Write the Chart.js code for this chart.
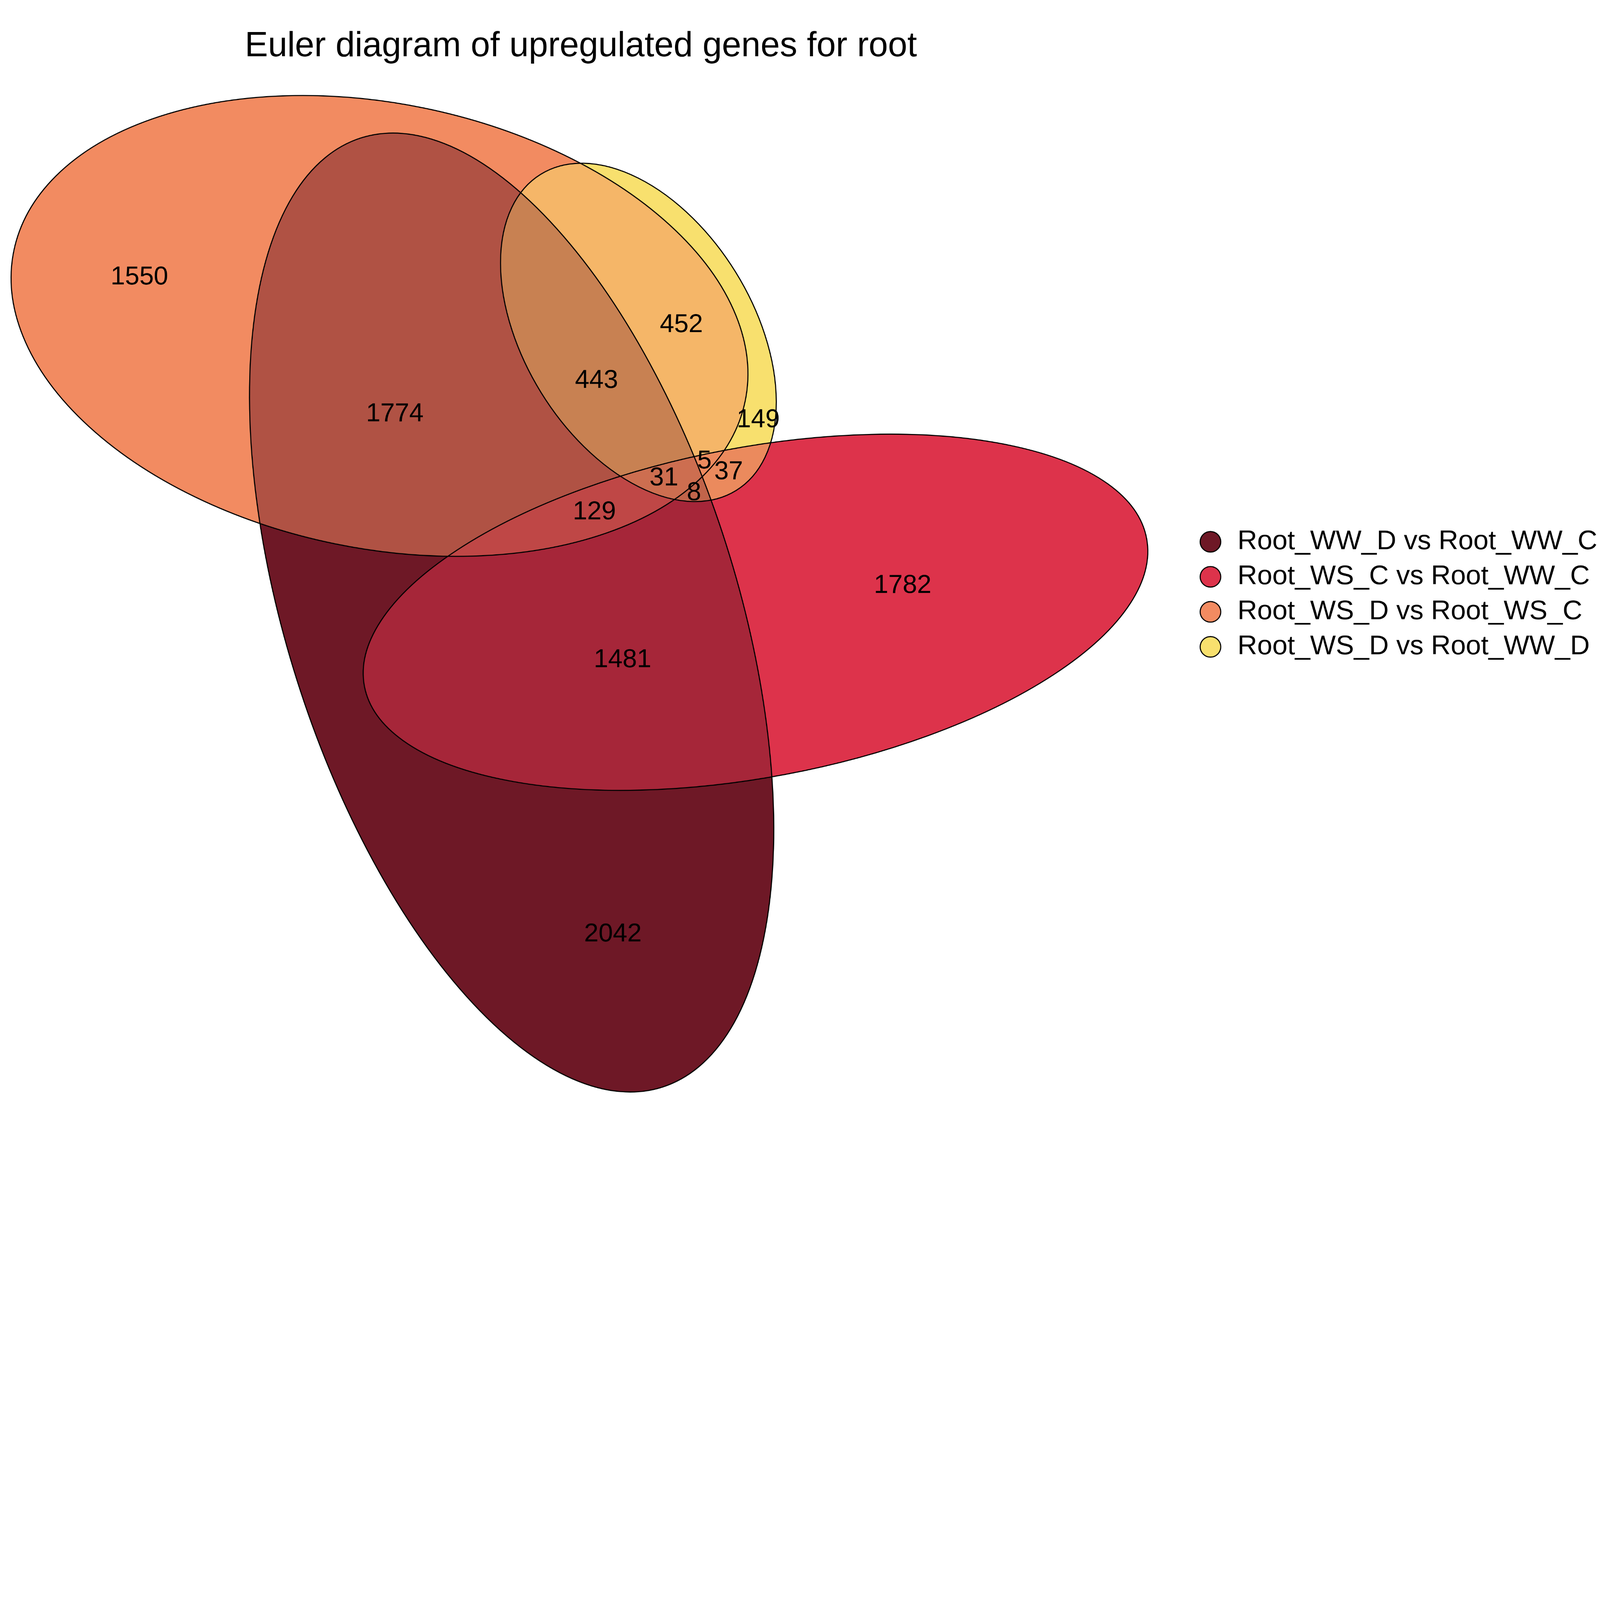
<!DOCTYPE html>
<html>
<head>
<meta charset="utf-8">
<title>Euler diagram of upregulated genes for root</title>
<script src="https://cdn.jsdelivr.net/npm/chart.js@4.4.1/dist/chart.umd.min.js"></script>
<style>
  html, body { margin: 0; padding: 0; background: #ffffff; overflow: hidden; }
  #wrap { width: 5940px; height: 4200px; position: relative; transform-origin: 0 0; }
</style>
</head>
<body>
<div id="wrap"><canvas id="eulerChart"></canvas></div>
<script>
// sets (legend order)
const setNames = [
    'Root_WW_D vs Root_WW_C',
    'Root_WS_C vs Root_WW_C',
    'Root_WS_D vs Root_WS_C',
    'Root_WS_D vs Root_WW_D'
];

// fitted ellipses, one per set (diagram units, y pointing down, angle in degrees)
const ellipseX = [1905, 2813, 1413, 2377];
const ellipseY = [2274, 2273, 1210, 1234];
const ellipseA = [1854, 1482, 1390, 692];
const ellipseB = [838, 614, 828, 426];
const ellipseAngle = [72.4, -10.7, 11.6, 58.3];

// regions: member sets (index into setNames), gene counts, label anchor
const regionMembers = [[0], [1], [2], [3], [0, 1], [0, 2], [1, 3], [2, 3], [0, 1, 2], [0, 1, 3], [0, 2, 3], [1, 2, 3], [0, 1, 2, 3]];
const regionCounts = [2042, 1782, 1550, 149, 1481, 1774, 37, 452, 129, 8, 443, 5, 31];
const labelX = [2282, 3361, 519, 2823, 2318, 1470, 2713, 2537, 2213, 2584, 2221, 2623, 2472];
const labelY = [3469, 2175, 1030, 1560, 2451, 1538, 1753, 1207, 1902, 1831, 1414, 1713, 1776];

const setColors = ['#6E1826', '#DD334B', '#F28B61', '#F8E06E'];
const FONT = '"Liberation Sans", Arial, Helvetica, sans-serif';

// the page is laid out at 5940x4200; shrink it if the window is smaller
function fitPage() {
    const k = Math.min(1, window.innerWidth / 5940, window.innerHeight / 4200);
    document.getElementById('wrap').style.transform = 'scale(' + k + ')';
}
fitPage();
window.addEventListener('resize', fitPage);

// region colour = plain average of the member colours
function mixColors(idx) {
    let r = 0, g = 0, b = 0;
    idx.forEach(function(i) {
        const h = setColors[i];
        r += parseInt(h.substr(1, 2), 16);
        g += parseInt(h.substr(3, 2), 16);
        b += parseInt(h.substr(5, 2), 16);
    });
    const n = idx.length;
    return 'rgb(' + Math.round(r / n) + ',' + Math.round(g / n) + ',' + Math.round(b / n) + ')';
}

const eulerPlugin = {
    id: 'eulerRegions',
    afterDatasetsDraw(chart) {
        const ctx = chart.ctx;
        const xs = chart.scales.x;
        const ys = chart.scales.y;
        const unit = Math.abs(xs.getPixelForValue(1) - xs.getPixelForValue(0));

        const shapes = ellipseX.map(function(cx, i) {
            return {
                x: xs.getPixelForValue(cx),
                y: ys.getPixelForValue(ellipseY[i]),
                a: ellipseA[i] * unit,
                b: ellipseB[i] * unit,
                rot: ellipseAngle[i] * Math.PI / 180
            };
        });
        function path(s) {
            ctx.beginPath();
            ctx.ellipse(s.x, s.y, s.a, s.b, s.rot, 0, Math.PI * 2);
        }

        // fill every intersection, smallest combos first so deeper overlaps win
        const combos = [];
        for (let m = 1; m < (1 << shapes.length); m++) {
            const idx = [];
            for (let i = 0; i < shapes.length; i++) if (m & (1 << i)) idx.push(i);
            combos.push(idx);
        }
        combos.sort(function(p, q) { return p.length - q.length; });

        combos.forEach(function(idx) {
            ctx.save();
            idx.forEach(function(i) { path(shapes[i]); ctx.clip(); });
            ctx.fillStyle = mixColors(idx);
            ctx.fillRect(0, 0, chart.width, chart.height);
            ctx.restore();
        });

        // outlines
        ctx.save();
        ctx.lineWidth = 4;
        ctx.strokeStyle = '#000000';
        shapes.forEach(function(s) { path(s); ctx.stroke(); });
        ctx.restore();

        // counts, placed by the label dataset
        const meta = chart.getDatasetMeta(setNames.length);
        ctx.save();
        ctx.fillStyle = '#000000';
        ctx.font = '96px ' + FONT;
        ctx.textAlign = 'center';
        ctx.textBaseline = 'middle';
        meta.data.forEach(function(pt, i) {
            ctx.fillText(String(regionCounts[i]), pt.x, pt.y);
        });
        ctx.restore();
    }
};

document.addEventListener('DOMContentLoaded', function() {
    const datasets = setNames.map(function(name, i) {
        return {
            label: name,
            data: [{ x: ellipseX[i], y: ellipseY[i] }],
            backgroundColor: setColors[i],
            borderColor: '#000000',
            borderWidth: 4,
            pointBackgroundColor: setColors[i],
            pointBorderColor: '#000000',
            pointBorderWidth: 4,
            pointStyle: 'circle',
            pointRadius: 0,
            pointHoverRadius: 0
        };
    });
    datasets.push({
        label: 'counts',
        data: labelX.map(function(x, i) { return { x: x, y: labelY[i] }; }),
        pointRadius: 0,
        pointHoverRadius: 0
    });

    new Chart(document.getElementById('eulerChart'), {
        type: 'scatter',
        data: { datasets: datasets },
        options: {
            responsive: true,
            maintainAspectRatio: false,
            animation: false,
            events: [],
            devicePixelRatio: 1,
            scales: {
                x: { type: 'linear', display: false, bounds: 'data', min: 0, max: 4325.5 },
                // hidden axis on the right keeps a gap before the legend,
                // so the title centres over the diagram
                y: {
                    type: 'linear', display: false, bounds: 'data', reverse: true,
                    position: 'right', min: 212.8, max: 4200,
                    afterFit: function(scale) { scale.width = 102; }
                }
            },
            plugins: {
                title: {
                    display: true,
                    text: 'Euler diagram of upregulated genes for root',
                    position: 'top',
                    fullSize: false,
                    align: 'center',
                    color: '#000000',
                    font: { family: FONT, size: 129, weight: 'normal' },
                    padding: { top: 96, bottom: -38 }
                },
                legend: {
                    position: 'right',
                    fullSize: false,
                    align: 'center',
                    labels: {
                        usePointStyle: true,
                        pointStyle: 'circle',
                        boxWidth: 100,
                        boxHeight: 54,
                        padding: 29,
                        color: '#000000',
                        font: { family: FONT, size: 101 },
                        filter: function(item) { return item.datasetIndex < setNames.length; }
                    }
                },
                tooltip: { enabled: false }
            }
        },
        plugins: [eulerPlugin]
    });
});
</script>
</body>
</html>
